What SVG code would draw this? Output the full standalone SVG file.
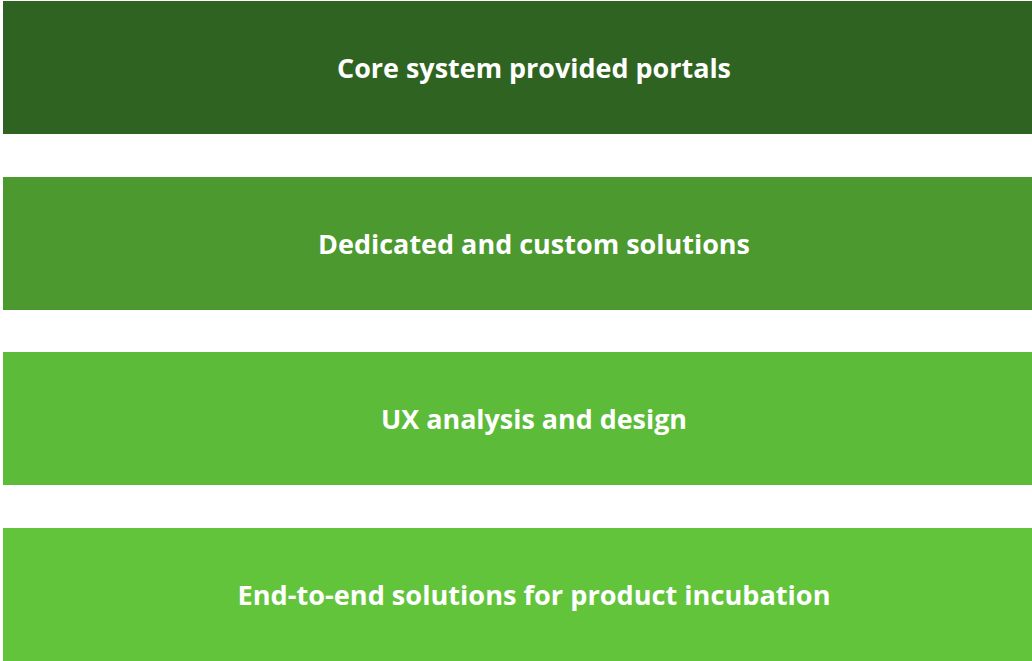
<svg xmlns="http://www.w3.org/2000/svg" width="1032" height="661" viewBox="0 0 1032 661">
<style>
.t{font-family:"Open Sans","Liberation Sans",sans-serif;font-weight:bold;font-size:27px;fill:#ffffff;text-anchor:middle}
</style>
<rect width="1032" height="661" fill="#ffffff"/>
<g id="n1"><rect x="3" y="1" width="1029" height="133" fill="#2f6321"/><text class="t" x="534" y="78" textLength="394" lengthAdjust="spacingAndGlyphs">Core system provided portals</text></g>
<g id="n2"><rect x="3" y="177" width="1029" height="133" fill="#4b992f"/><text class="t" x="534" y="254" textLength="432" lengthAdjust="spacingAndGlyphs">Dedicated and custom solutions</text></g>
<g id="n3"><rect x="3" y="352" width="1029" height="133" fill="#5cbb39"/><text class="t" x="534" y="429" textLength="306" lengthAdjust="spacingAndGlyphs">UX analysis and design</text></g>
<g id="n4"><rect x="3" y="528" width="1029" height="133" fill="#62c43b"/><text class="t" x="534" y="605" textLength="593" lengthAdjust="spacingAndGlyphs">End-to-end solutions for product incubation</text></g>
<g id="connectors"></g>
</svg>
